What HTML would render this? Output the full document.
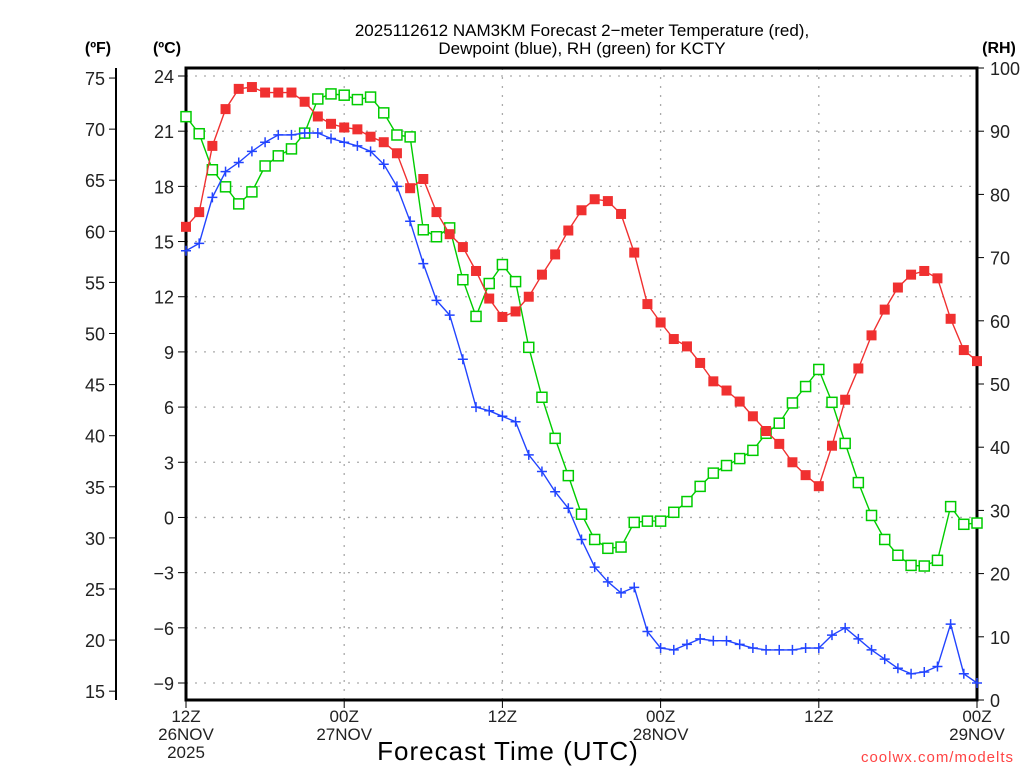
<!DOCTYPE html>
<html><head><meta charset="utf-8"><style>
html,body{margin:0;padding:0;background:#fff;width:1024px;height:768px;overflow:hidden}
svg text{font-family:"Liberation Sans",sans-serif}
</style></head><body>
<svg id="chart" width="1024" height="768" viewBox="0 0 1024 768" xmlns="http://www.w3.org/2000/svg">
<g id="grid"></g>
<g id="axes"></g>
<g id="series"></g>
<text x="582" y="36" font-size="17" text-anchor="middle">2025112612 NAM3KM Forecast 2−meter Temperature (red),</text>
<text x="582" y="54" font-size="17" text-anchor="middle">Dewpoint (blue), RH (green) for KCTY</text>
<text x="98" y="53" font-size="16" font-weight="bold" text-anchor="middle">(ºF)</text>
<text x="167" y="53" font-size="16" font-weight="bold" text-anchor="middle">(ºC)</text>
<text x="999" y="53" font-size="16" font-weight="bold" text-anchor="middle">(RH)</text>
<text x="508" y="760" font-size="26" text-anchor="middle" letter-spacing="1">Forecast Time (UTC)</text>
<text x="1014" y="762" font-size="15" fill="#ff4444" text-anchor="end" letter-spacing="1">coolwx.com/modelts</text>
</svg>
<script>
const tempC=[15.8,16.6,20.2,22.2,23.3,23.4,23.1,23.1,23.1,22.6,21.8,21.4,21.2,21.1,20.7,20.4,19.8,17.9,18.4,16.6,15.4,14.7,13.4,11.9,10.9,11.2,12.0,13.2,14.3,15.6,16.7,17.3,17.2,16.5,14.4,11.6,10.6,9.7,9.3,8.4,7.4,6.9,6.3,5.5,4.7,4.0,3.0,2.3,1.7,3.9,6.4,8.1,9.9,11.3,12.5,13.2,13.4,13.0,10.8,9.1,8.5];
const dewC=[14.5,14.9,17.4,18.8,19.3,19.9,20.4,20.8,20.8,20.9,20.9,20.6,20.4,20.2,19.9,19.2,18.0,16.1,13.8,11.8,11.0,8.6,6.0,5.8,5.5,5.2,3.4,2.5,1.4,0.5,-1.2,-2.7,-3.5,-4.1,-3.8,-6.2,-7.1,-7.2,-6.9,-6.6,-6.7,-6.7,-6.9,-7.1,-7.2,-7.2,-7.2,-7.1,-7.1,-6.4,-6.0,-6.6,-7.2,-7.7,-8.2,-8.5,-8.4,-8.1,-5.8,-8.5,-9.0];
const rh=[92.3,89.6,83.9,81.2,78.5,80.4,84.5,86.1,87.2,89.7,95.1,95.9,95.7,95.0,95.4,92.9,89.4,89.1,74.4,73.3,74.7,66.5,60.7,65.9,68.9,66.2,55.8,47.9,41.4,35.5,29.4,25.4,24.0,24.2,28.1,28.3,28.3,29.7,31.4,33.8,35.9,37.1,38.2,39.5,42.2,43.8,47.0,49.6,52.3,47.1,40.6,34.4,29.2,25.4,22.9,21.3,21.2,22.1,30.6,27.8,28.0];
const cTicks=[24,21,18,15,12,9,6,3,0,-3,-6,-9];
const fTicks=[75,70,65,60,55,50,45,40,35,30,25,20,15];
const rhTicks=[100,90,80,70,60,50,40,30,20,10,0];
const xTickHours=[0,12,24,36,48,60];
const xTickLabels=[["12Z","26NOV","2025"],["00Z","27NOV"],["12Z"],["00Z","28NOV"],["12Z"],["00Z","29NOV"]];

const L=186,R=977,T=68,B=700;
const NS="http://www.w3.org/2000/svg";
const X=h=>L+h*(R-L)/60;
const YC=c=>76+(24-c)*(607/33);
const YF=f=>YC((f-32)*5/9);
const YR=r=>B-r*(B-T)/100;
function mk(tag,attrs,parent){const e=document.createElementNS(NS,tag);for(const k in attrs)e.setAttribute(k,attrs[k]);parent.appendChild(e);return e;}
const grid=document.getElementById('grid'),axes=document.getElementById('axes'),ser=document.getElementById('series');

cTicks.forEach(c=>{
  const y=YC(c);
  const g=mk('line',{x1:L,x2:R,y1:y,y2:y,stroke:'#aaa','stroke-width':1.3,'stroke-dasharray':'2,7'},grid);
  
  
  mk('line',{x1:L-8,x2:L,y1:y,y2:y,stroke:'#000','stroke-width':1},axes);
  const t=mk('text',{x:L-12,y:y+7,'font-size':18,'text-anchor':'end',fill:'#222'},axes);
  t.textContent=c<0?'−'+(-c):String(c);
  
  
});
xTickHours.forEach((h,i)=>{
  const x=X(h);
  if(h>0&&h<60){const g=mk('line',{x1:x,x2:x,y1:T,y2:B,stroke:'#aaa','stroke-width':1.3,'stroke-dasharray':'2,7'},grid);
  
  }
  mk('line',{x1:x,x2:x,y1:B,y2:B+8,stroke:'#000','stroke-width':1},axes);
  xTickLabels[i].forEach((s,j)=>{
    const t=mk('text',{x:x,y:722+j*18,'font-size':17,'text-anchor':'middle',fill:'#222'},axes);
    t.textContent=s;
    
    
  });
});
// F axis
mk('line',{x1:116,x2:116,y1:T,y2:B,stroke:'#000','stroke-width':2},axes);
fTicks.forEach(f=>{
  const y=YF(f);
  mk('line',{x1:109,x2:116,y1:y,y2:y,stroke:'#000','stroke-width':1},axes);
  const t=mk('text',{x:105,y:y+7,'font-size':18,'text-anchor':'end',fill:'#222'},axes);
  t.textContent=f;
  
  
});
// RH axis ticks
rhTicks.forEach(r=>{
  const y=YR(r);
  mk('line',{x1:R,x2:R+7,y1:y,y2:y,stroke:'#000','stroke-width':1},axes);
  const t=mk('text',{x:990,y:y+7,'font-size':18,'text-anchor':'start',fill:'#222'},axes);
  t.textContent=r;
  
  
});
const box=mk('rect',{x:L,y:T,width:R-L,height:B-T,fill:'none',stroke:'#000','stroke-width':3},axes);



function series(vals,yf,color,marker,name){
  const g=mk('g',{},ser);
  
  
  const pts=vals.map((v,i)=>X(i).toFixed(1)+','+yf(v).toFixed(1)).join(' ');
  mk('polyline',{points:pts,fill:'none',stroke:color,'stroke-width':1.4},g);
  vals.forEach((v,i)=>{
    const x=X(i),y=yf(v);let m;
    if(marker==='fill')m=mk('rect',{x:x-5,y:y-5,width:10,height:10,fill:color},g);
    else if(marker==='open')m=mk('rect',{x:x-5,y:y-5,width:10,height:10,fill:'#fff',stroke:color,'stroke-width':1.5},g);
    else m=mk('path',{d:`M${x-5},${y}H${x+5}M${x},${y-5}V${y+5}`,stroke:color,'stroke-width':1.5},g);
    
    
  });
}
series(rh,YR,'#00cc00','open','rh-series');
series(dewC,YC,'#2244ff','plus','dewpoint-series');
series(tempC,YC,'#f03030','fill','temperature-series');
</script>
</body></html>
